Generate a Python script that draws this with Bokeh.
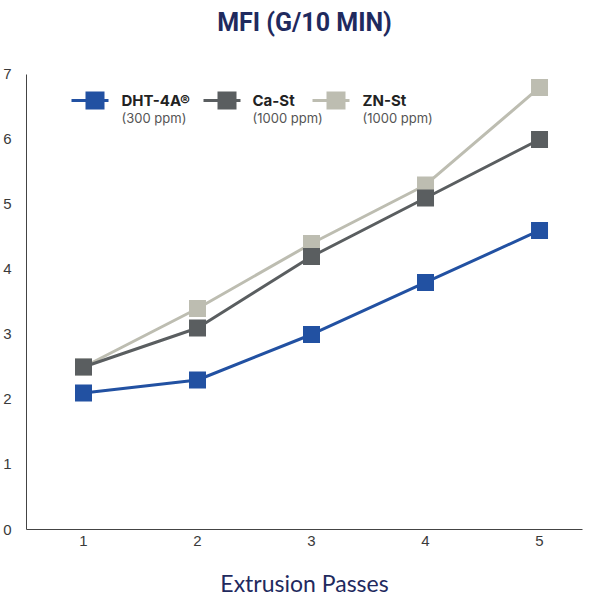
from bokeh.plotting import figure
from bokeh.models import Label, BoxAnnotation, FixedTicker, Range1d
from bokeh.embed import file_html
from bokeh.resources import INLINE

# ---- data ----
passes = [1, 2, 3, 4, 5]
dht = [2.1, 2.3, 3.0, 3.8, 4.6]
ca_st = [2.5, 3.1, 4.2, 5.1, 6.0]
zn_st = [2.5, 3.4, 4.4, 5.3, 6.8]
series_names = ["DHT-4A®", "Ca-St", "ZN-St"]
series_notes = ["(300 ppm)", "(1000 ppm)", "(1000 ppm)"]
y_ticks = [0, 1, 2, 3, 4, 5, 6, 7]
x_title = "Extrusion Passes"
chart_title = "MFI (G/10 MIN)"

BLUE = "#2251a2"
DARK = "#5a5e60"
LIGHT = "#bdbdb1"
NAVY = "#1f2a5e"

p = figure(width=596, height=599,
           x_range=Range1d(0.5, 5.377), y_range=Range1d(0, 7.507),
           output_backend="svg", toolbar_location=None,
           min_border_left=26, min_border_right=14,
           min_border_top=41, min_border_bottom=69)

p.xgrid.visible = False
p.ygrid.visible = False
p.outline_line_color = None
p.background_fill_color = "white"
p.border_fill_color = "white"

p.title.text = chart_title
p.title.align = "center"
p.title.text_font = "Roboto"
p.title.text_font_size = "25px"
p.title.text_font_style = "bold"
p.title.text_color = NAVY
p.title.standoff = 10

for ax in (p.xaxis[0], p.yaxis[0]):
    ax.major_tick_line_color = None
    ax.minor_tick_line_color = None
    ax.axis_line_color = "#444444"
    ax.axis_line_width = 1
    ax.major_label_text_font = "Liberation Sans"
    ax.major_label_text_font_size = "15px"
    ax.major_label_text_color = "#3a3a3a"

p.yaxis.ticker = FixedTicker(ticks=y_ticks)
p.yaxis.bounds = (0, 7)
p.yaxis.major_label_standoff = 9
p.yaxis.major_label_text_baseline = "alphabetic"
p.xaxis.ticker = FixedTicker(ticks=passes)
p.xaxis.major_label_standoff = 0
p.xaxis.axis_label = x_title
p.xaxis.axis_label_text_font = "Lato"
p.xaxis.axis_label_text_font_size = "23px"
p.xaxis.axis_label_text_font_style = "normal"
p.xaxis.axis_label_text_color = NAVY
p.xaxis.axis_label_standoff = 20

series = [(zn_st, LIGHT), (ca_st, DARK), (dht, BLUE)]
for vals, col in series:
    p.line(passes, vals, line_color=col, line_width=3)
    p.scatter(passes, vals, marker="square", size=17, fill_color=col, line_color=None)

# ---- legend (screen units, relative to frame) ----
leg_cols = [BLUE, DARK, LIGHT]
leg_line_x = [45, 177, 286]
leg_text_x = [95, 226, 336]
for i in range(3):
    lx = leg_line_x[i]
    p.add_layout(BoxAnnotation(left=lx, right=lx + 37, bottom=427.5, top=430.5,
                               left_units="screen", right_units="screen",
                               bottom_units="screen", top_units="screen",
                               fill_color=leg_cols[i], fill_alpha=1, line_color=None))
    p.add_layout(BoxAnnotation(left=lx + 14, right=lx + 33, bottom=420, top=438,
                               left_units="screen", right_units="screen",
                               bottom_units="screen", top_units="screen",
                               fill_color=leg_cols[i], fill_alpha=1, line_color=None))
    p.add_layout(Label(x=leg_text_x[i], y=429, x_units="screen", y_units="screen",
                       text=series_names[i], text_font="Inter", text_font_size="15px",
                       text_font_style="bold", text_color="#222222",
                       text_baseline="alphabetic"))
    p.add_layout(Label(x=leg_text_x[i], y=411.5, x_units="screen", y_units="screen",
                       text=series_notes[i], text_font="Inter", text_font_size="13px",
                       text_color="#555555", text_baseline="alphabetic"))

open("out.html", "w").write(file_html(p, INLINE))
